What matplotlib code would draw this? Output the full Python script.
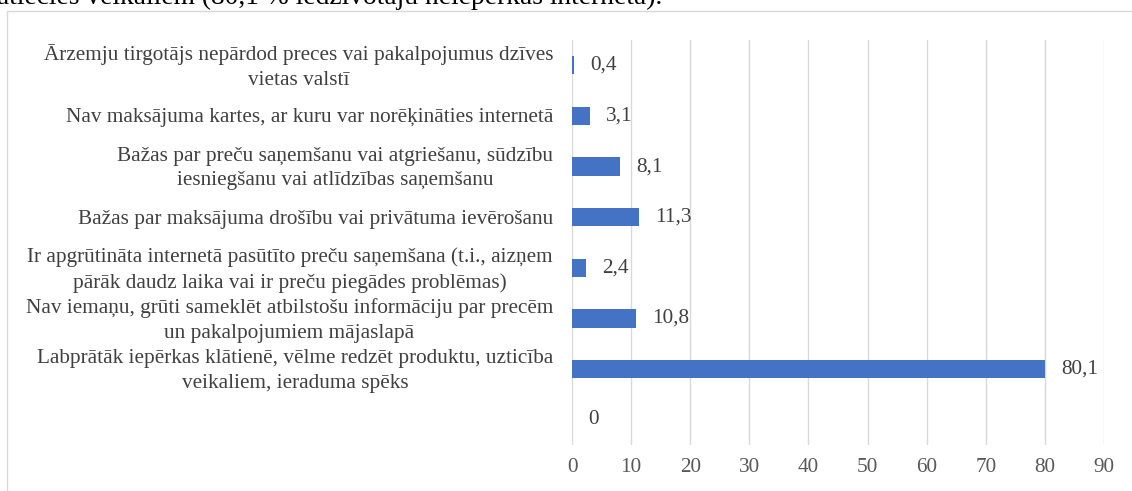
"""Horizontal bar chart: reasons for not shopping online (Latvian survey)."""

import matplotlib
matplotlib.use("Agg")
import matplotlib.pyplot as plt
from matplotlib.patches import Rectangle
from matplotlib.transforms import blended_transform_factory

# ---------------------------------------------------------------------------
# Data (top to bottom as shown)
# ---------------------------------------------------------------------------
categories = [
    "Ārzemju tirgotājs nepārdod preces vai pakalpojumus dzīves\nvietas valstī",
    "Nav maksājuma kartes, ar kuru var norēķināties internetā",
    "Bažas par preču saņemšanu vai atgriešanu, sūdzību\niesniegšanu vai atlīdzības saņemšanu",
    "Bažas par maksājuma drošību vai privātuma ievērošanu",
    "Ir apgrūtināta internetā pasūtīto preču saņemšana (t.i., aizņem\npārāk daudz laika vai ir preču piegādes problēmas)",
    "Nav iemaņu, grūti sameklēt atbilstošu informāciju par precēm\nun pakalpojumiem mājaslapā",
    "Labprātāk iepērkas klātienē, vēlme redzēt produktu, uzticība\nveikaliem, ieraduma spēks",
    "",
]
values = [0.4, 3.1, 8.1, 11.3, 2.4, 10.8, 80.1, 0]
x_ticks = [0, 10, 20, 30, 40, 50, 60, 70, 80, 90]

caption = "atiecies veikaliem (80,1 % iedzīvotāju neiepērkas internetā)."

_BAR, _GRID, _TEXT, _LABEL = "#4472C4", "#D9D9D9", "#595959", "#404040"
W, H = 1132, 491
FS = 15.3

plt.rcParams["font.family"] = ["Liberation Serif", "DejaVu Serif"]

fig = plt.figure(figsize=(W / 100, H / 100), dpi=100, facecolor="white")

# chart-area frame (partially outside the crop)
fig.patches.append(Rectangle((7 / W, -0.1), 1.2, 1 - 11 / H + 0.1,
                             transform=fig.transFigure, fill=False,
                             edgecolor=_GRID, lw=1.0))

# cropped document text above the chart
fig.text(-3 / W, 1 - 4 / H, caption, fontsize=19.8, color="black",
         ha="left", va="baseline")

ax = fig.add_axes([572 / W, 1 - 445 / H, (1104 - 572) / W, (445 - 40) / H])
y = list(range(len(values)))
ax.barh(y, values, height=0.36, color=_BAR)
ax.set_ylim(len(values) - 0.5, -0.5)
ax.set_xlim(0, 90)
ax.set_xticks(x_ticks)
ax.set_xticklabels([str(t) for t in x_ticks], fontsize=FS, color=_TEXT)
ax.tick_params(axis="x", length=0, pad=9)
ax.set_yticks([])
for s in ax.spines.values():
    s.set_visible(False)
ax.grid(axis="x", color=_GRID, lw=1.0)
ax.set_axisbelow(True)

# category labels: block right-aligned, lines centred
trans = blended_transform_factory(fig.transFigure, ax.transData)
for yi, lab in zip(y, categories):
    ax.text(553 / W, yi + 0.04, lab, transform=trans, ha="right", va="center",
            multialignment="center", fontsize=FS, color=_LABEL,
            linespacing=1.4)

# value labels
for yi, v in zip(y, values):
    ax.annotate(f"{v:g}".replace(".", ","), (v, yi), xytext=(11.5, 0),
                textcoords="offset points", ha="left", va="center",
                fontsize=FS, color=_LABEL)

fig.savefig("out.png", dpi=100, facecolor="white")
